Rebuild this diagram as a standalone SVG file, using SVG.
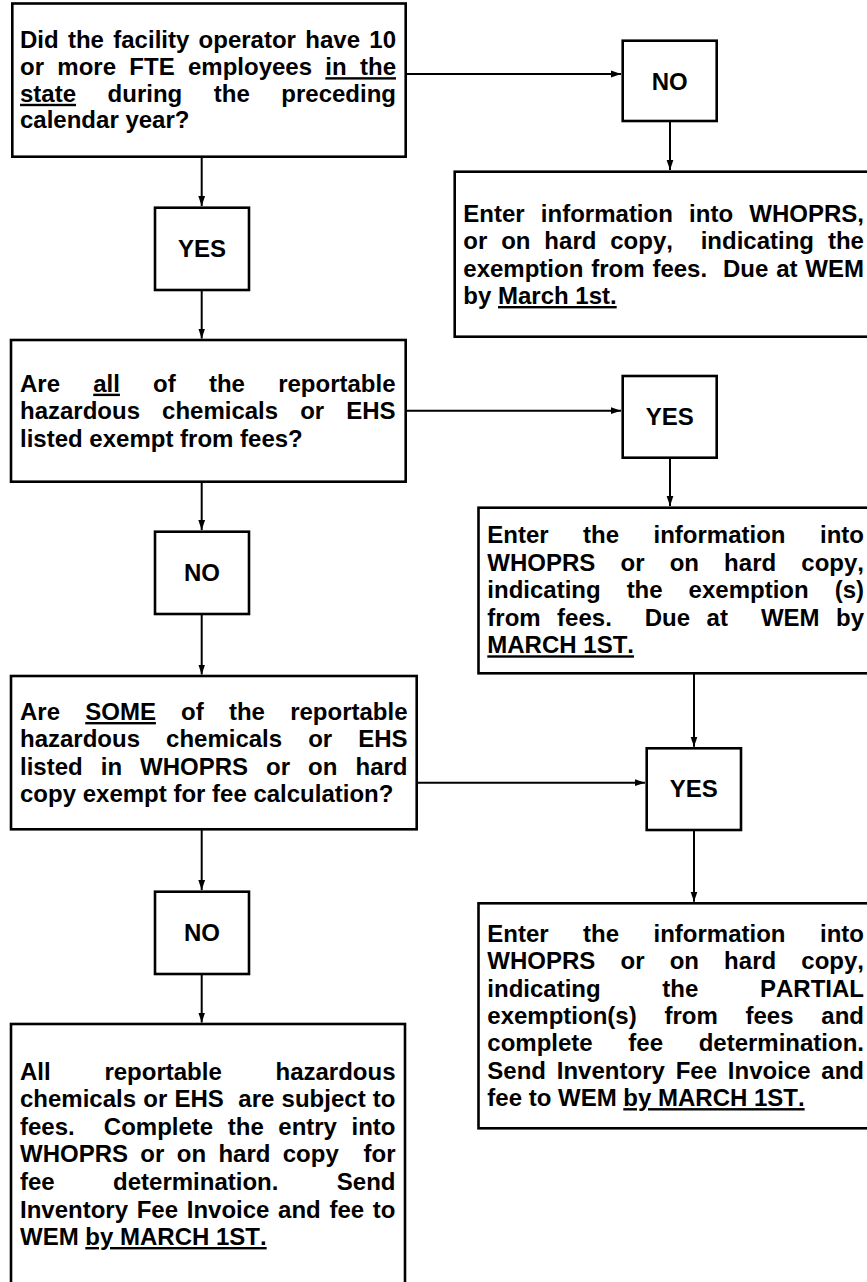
<svg xmlns="http://www.w3.org/2000/svg" width="867" height="1282" viewBox="0 0 867 1282">
<style>
.box{fill:#fff;stroke:#000;stroke-width:2.6}
.t{font-family:"Liberation Sans",Arial,Helvetica,sans-serif;font-weight:bold;font-size:24px;fill:#000;font-kerning:none}
.c{text-anchor:middle}
.ln{stroke:#000;stroke-width:2;fill:none;marker-end:url(#ah)}
.u{text-decoration:underline}
</style>
<defs>
<marker id="ah" markerUnits="userSpaceOnUse" markerWidth="10" markerHeight="8" refX="10" refY="4" orient="auto">
<path d="M0,0.6 L10,4 L0,7.4 z" fill="#000"/>
</marker>
</defs>
<rect x="0" y="0" width="867" height="1282" fill="#fff"/>
<g id="connectors">
<line class="ln" x1="405.7" y1="74" x2="621" y2="74"/>
<line class="ln" x1="670" y1="121" x2="670" y2="170"/>
<line class="ln" x1="201.7" y1="156.7" x2="201.7" y2="206"/>
<line class="ln" x1="201.7" y1="290" x2="201.7" y2="338.5"/>
<line class="ln" x1="405.7" y1="410.7" x2="621" y2="410.7"/>
<line class="ln" x1="670" y1="457.7" x2="670" y2="506"/>
<line class="ln" x1="201.7" y1="481.7" x2="201.7" y2="530"/>
<line class="ln" x1="201.7" y1="614" x2="201.7" y2="674.5"/>
<line class="ln" x1="416.7" y1="782.7" x2="645" y2="782.7"/>
<line class="ln" x1="694" y1="673.3" x2="694" y2="746.7"/>
<line class="ln" x1="694" y1="830" x2="694" y2="901.7"/>
<line class="ln" x1="201.7" y1="829.3" x2="201.7" y2="890"/>
<line class="ln" x1="201.7" y1="974" x2="201.7" y2="1022.5"/>
</g>
<g id="q1">
<rect class="box" x="12.3" y="3.5" width="393.4" height="153.2"/>
<text class="t" x="20" y="48.3" style="word-spacing:2.64px">Did the facility operator have 10</text>
<text class="t" x="20" y="75.2" style="word-spacing:6.65px">or more FTE employees <tspan class="u">in the</tspan></text>
<text class="t" x="20" y="101.8" style="word-spacing:24.87px"><tspan class="u">state</tspan> during the preceding</text>
<text class="t" x="20" y="128.4">calendar year?</text>
</g>
<g id="no1">
<rect class="box" x="622.7" y="40.7" width="94" height="80.3"/>
<text class="t c" x="669.7" y="89.5">NO</text>
</g>
<g id="exempt1">
<rect class="box" x="454.7" y="171.7" width="440" height="165"/>
<text class="t" x="463.3" y="221.7" style="word-spacing:9.56px">Enter information into WHOPRS,</text>
<text class="t" x="463.3" y="249" xml:space="preserve" style="word-spacing:7.21px">or on hard copy,  indicating the</text>
<text class="t" x="463.3" y="276.7" xml:space="preserve" style="word-spacing:1.22px">exemption from fees.  Due at WEM</text>
<text class="t" x="463.3" y="304">by <tspan class="u">March 1st.</tspan></text>
</g>
<g id="yes1">
<rect class="box" x="155" y="207.7" width="94" height="82.3"/>
<text class="t c" x="202" y="257.3">YES</text>
</g>
<g id="q2">
<rect class="box" x="11" y="340" width="394.7" height="141.7"/>
<text class="t" x="20" y="391.7" style="word-spacing:26.53px">Are <tspan class="u">all</tspan> of the reportable</text>
<text class="t" x="20" y="419.3" style="word-spacing:15.35px">hazardous chemicals or EHS</text>
<text class="t" x="20" y="446.7">listed exempt from fees?</text>
</g>
<g id="yes2">
<rect class="box" x="622.7" y="376" width="94" height="81.7"/>
<text class="t c" x="669.7" y="425">YES</text>
</g>
<g id="exempt2">
<rect class="box" x="478.5" y="507.7" width="420" height="165.6"/>
<text class="t" x="487.3" y="543.3" style="word-spacing:27.78px">Enter the information into</text>
<text class="t" x="487.3" y="570.7" style="word-spacing:18.5px">WHOPRS or on hard copy,</text>
<text class="t" x="487.3" y="598.3" style="word-spacing:19.33px">indicating the exemption (s)</text>
<text class="t" x="487.3" y="626" xml:space="preserve" style="word-spacing:9.81px">from fees.  Due at  WEM by</text>
<text class="t" x="487.3" y="653.3"><tspan class="u">MARCH 1ST.</tspan></text>
</g>
<g id="no2">
<rect class="box" x="155" y="531.7" width="94" height="82.3"/>
<text class="t c" x="202" y="580.9">NO</text>
</g>
<g id="q3">
<rect class="box" x="11" y="676" width="405.7" height="153.3"/>
<text class="t" x="20" y="720" style="word-spacing:18.53px">Are <tspan class="u">SOME</tspan> of the reportable</text>
<text class="t" x="20" y="747.3" style="word-spacing:19.35px">hazardous chemicals or EHS</text>
<text class="t" x="20" y="775" style="word-spacing:11.36px">listed in WHOPRS or on hard</text>
<text class="t" x="20" y="802.3">copy exempt for fee calculation?</text>
</g>
<g id="yes3">
<rect class="box" x="646.7" y="748.3" width="94.3" height="81.7"/>
<text class="t c" x="693.8" y="797.3">YES</text>
</g>
<g id="partial">
<rect class="box" x="478.5" y="903.3" width="420" height="225"/>
<text class="t" x="487.3" y="941.7" style="word-spacing:27.78px">Enter the information into</text>
<text class="t" x="487.3" y="969.1" style="word-spacing:18.5px">WHOPRS or on hard copy,</text>
<text class="t" x="487.3" y="996.5" style="word-spacing:55px">indicating the PARTIAL</text>
<text class="t" x="487.3" y="1023.9" style="word-spacing:21.1px">exemption(s) from fees and</text>
<text class="t" x="487.3" y="1051.3" style="word-spacing:28.98px">complete fee determination.</text>
<text class="t" x="487.3" y="1078.7" style="word-spacing:4.15px">Send Inventory Fee Invoice and</text>
<text class="t" x="487.3" y="1106.1">fee to WEM <tspan class="u">by MARCH 1ST.</tspan></text>
</g>
<g id="no3">
<rect class="box" x="155" y="891.7" width="94" height="82.3"/>
<text class="t c" x="202" y="940.9">NO</text>
</g>
<g id="allfees">
<rect class="box" x="11" y="1024" width="394" height="300"/>
<text class="t" x="20" y="1080" style="word-spacing:47.05px">All reportable hazardous</text>
<text class="t" x="20" y="1107.3" xml:space="preserve" style="word-spacing:0.56px">chemicals or EHS  are subject to</text>
<text class="t" x="20" y="1135" xml:space="preserve" style="word-spacing:7.89px">fees.  Complete the entry into</text>
<text class="t" x="20" y="1162.3" xml:space="preserve" style="word-spacing:5.69px">WHOPRS or on hard copy  for</text>
<text class="t" x="20" y="1190" style="word-spacing:51.72px">fee determination. Send</text>
<text class="t" x="20" y="1217.7" style="word-spacing:2.01px">Inventory Fee Invoice and fee to</text>
<text class="t" x="20" y="1245">WEM <tspan class="u">by MARCH 1ST.</tspan></text>
</g>
</svg>
